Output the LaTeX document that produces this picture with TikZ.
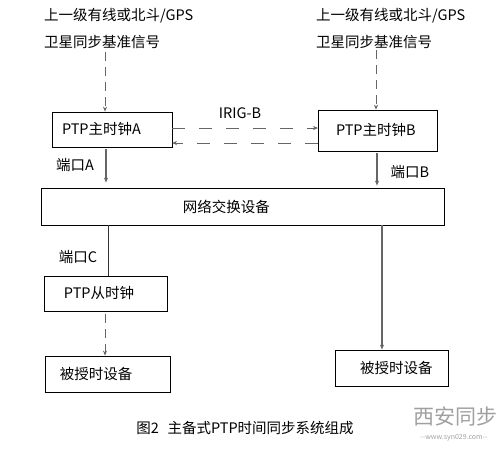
\documentclass[tikz,border=0pt]{standalone}
\usepackage{fontspec}
\setmainfont{Noto Sans CJK SC}
\usepackage{tikz}
\usetikzlibrary{arrows.meta}
\usetikzlibrary{positioning}
\definecolor{linkgray}{HTML}{666666}
\definecolor{markgray}{HTML}{A0A0A0}
\tikzset{
    unit/.style={draw=black, line width=0.8pt, inner xsep=0pt, inner ysep=0pt, align=left},
    source/.style={anchor=west, inner sep=0pt, align=left},
    syncline/.style={draw=linkgray, line width=0.7pt, dash pattern=on 9pt off 6pt,
        -{Stealth[length=5pt,width=4pt]}},
    irigline/.style={draw=linkgray, line width=0.7pt, dash pattern=on 13pt off 14pt,
        -{Stealth[length=5pt,width=4pt]}},
    netline/.style={draw=linkgray, line width=1.3pt, -{Stealth[length=5pt,width=4pt]}},
    netlinenoarrow/.style={draw=black!80, line width=0.8pt},
}
\begin{document}
\begin{tikzpicture}[x=1pt, y=-1pt, font=\fontsize{14.5}{27}\selectfont]
	\useasboundingbox (0,0) rectangle (504,450);
	% reference signals
	\node[source] (srcA) at (44,28.5) {上一级有线或北斗/GPS\\卫星同步基准信号};
	\node[source] (srcB) at (316,28.5) {上一级有线或北斗/GPS\\卫星同步基准信号};
	\coordinate (inA) at (105,52);
	\coordinate (inB) at (376,50);
	% master clocks
	\node[unit, text width=120pt, minimum height=35pt] (ptpA) at (112,129.5) {\hspace*{10pt}PTP主时钟A};
	\node[unit, text width=119pt, minimum height=41pt] (ptpB) at (377.5,130.5) {\hspace*{18pt}PTP主时钟B};
	\node (irig) at (240,113) {IRIG-B};
	\coordinate (aOut) at (172,128);
	\coordinate (bIn) at (318,128);
	\coordinate (bOut) at (318,143);
	\coordinate (aIn) at (172,143);
	% network
	\node[unit, text width=403pt, minimum height=37pt] (net) at (242.5,206.5) {\hspace*{142pt}网络交换设备};
	\node (portA) at (75,165) {端口A};
	\node (portB) at (410,172) {端口B};
	\node (portC) at (78,257) {端口C};
	% slave and devices
	\node[unit, text width=123pt, minimum height=35pt] (slave) at (105.5,293.5) {\hspace*{20pt}PTP从时钟};
	\node[unit, text width=125pt, minimum height=36pt] (devA) at (107.5,374) {\hspace*{15pt}被授时设备};
	\node[unit, text width=113pt, minimum height=36pt] (devB) at (391.5,368) {\hspace*{25pt}被授时设备};
	% connectors
	\draw[syncline] (inA) -- (inA |- ptpA.north);
	\draw[syncline] (inB) -- (inB |- ptpB.north);
	\draw[irigline] (aOut) -- (bIn);
	\draw[irigline] (bOut) -- (aIn);
	\draw[netline, shorten <=2pt, shorten >=5pt] (ptpA.south -| 106,0) -- (net.north -| 106,0);
	\draw[netline, shorten <=2pt, shorten >=2pt] (ptpB.south -| 377,0) -- (net.north -| 377,0);
	\draw[netlinenoarrow] (net.south -| 108,0) -- (slave.north -| 108,0);
	\draw[syncline, shorten <=3pt] (slave.south -| 105,0) -- (devA.north -| 105,0);
	\draw[netline] (net.south -| 382,0) -- (devB.north -| 382,0);
	% caption
	\node (caption) at (245,428) {图2\hspace{0.6em}主备式PTP时间同步系统组成};
	\node[text=markgray, font=\fontsize{21}{21}\selectfont] (mark) at (455,417) {西安同步};
	\node[text=markgray, font=\fontsize{7}{7}\selectfont] (markurl) at (454,438) {-{}-www.syn029.com-{}-};
\end{tikzpicture}
\end{document}
